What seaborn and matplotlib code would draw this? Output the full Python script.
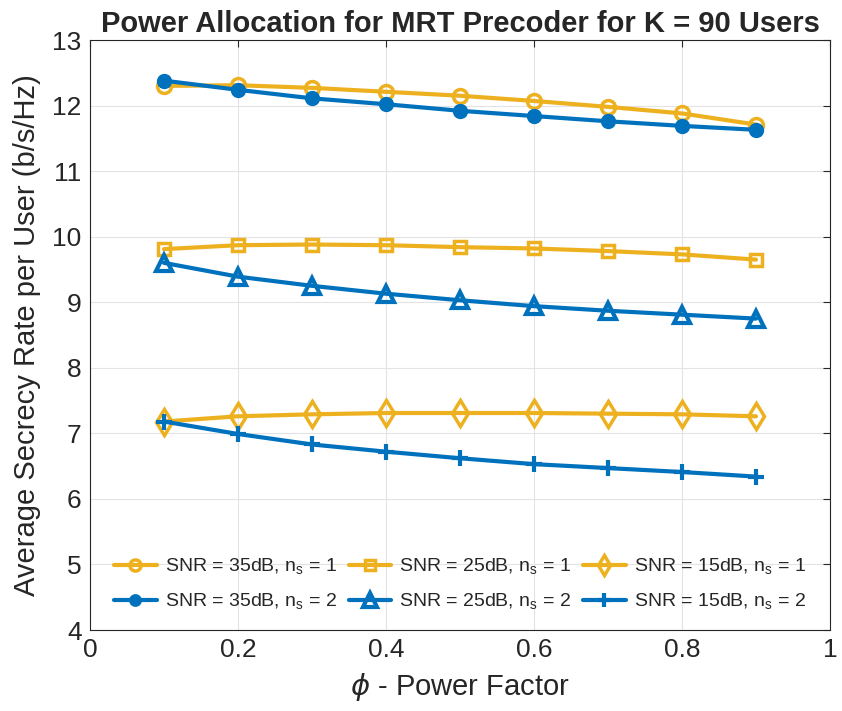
import numpy as np
import pandas as pd
import matplotlib
matplotlib.use("Agg")
import matplotlib.pyplot as plt
import seaborn as sns

phi = [0.1, 0.2, 0.3, 0.4, 0.5, 0.6, 0.7, 0.8, 0.9]
snr35_ns1 = [12.30, 12.31, 12.27, 12.21, 12.15, 12.07, 11.98, 11.88, 11.71]
snr25_ns1 = [9.81, 9.87, 9.88, 9.87, 9.84, 9.82, 9.78, 9.73, 9.65]
snr15_ns1 = [7.18, 7.26, 7.29, 7.31, 7.31, 7.31, 7.30, 7.29, 7.26]
snr35_ns2 = [12.38, 12.24, 12.11, 12.02, 11.92, 11.84, 11.76, 11.69, 11.63]
snr25_ns2 = [9.60, 9.39, 9.25, 9.13, 9.03, 8.94, 8.87, 8.81, 8.75]
snr15_ns2 = [7.18, 6.99, 6.83, 6.72, 6.62, 6.53, 6.47, 6.41, 6.34]

labels = [r"SNR = 35dB, n$_\mathregular{s}$ = 1", r"SNR = 25dB, n$_\mathregular{s}$ = 1",
          r"SNR = 15dB, n$_\mathregular{s}$ = 1", r"SNR = 35dB, n$_\mathregular{s}$ = 2",
          r"SNR = 25dB, n$_\mathregular{s}$ = 2", r"SNR = 15dB, n$_\mathregular{s}$ = 2"]
series = [snr35_ns1, snr25_ns1, snr15_ns1, snr35_ns2, snr25_ns2, snr15_ns2]

yellow = "#EDB120"
blue = "#0072BD"
styles = [
    dict(color=yellow, marker="o", markersize=10, markerfacecolor="none", markeredgecolor=yellow, markeredgewidth=2.5),
    dict(color=yellow, marker="s", markersize=9, markerfacecolor="none", markeredgecolor=yellow, markeredgewidth=2.5),
    dict(color=yellow, marker="d", markersize=13, markerfacecolor="none", markeredgecolor=yellow, markeredgewidth=2.5),
    dict(color=blue, marker="o", markersize=9, markerfacecolor=blue, markeredgecolor=blue, markeredgewidth=2),
    dict(color=blue, marker="^", markersize=12, markerfacecolor="none", markeredgecolor=blue, markeredgewidth=3),
    dict(color=blue, marker="+", markersize=12, markeredgecolor=blue, markeredgewidth=3),
]

sns.set_style("white")
plt.rcParams['font.family'] = ['Liberation Sans', 'DejaVu Sans']
plt.rcParams['mathtext.fontset'] = 'dejavusans'

fig = plt.figure(figsize=(8.42, 7.11), dpi=100)
ax = fig.add_axes([90/842, 81/711, 740/842, 590/711])

for lab, vals, st in zip(labels, series, styles):
    df = pd.DataFrame({"phi": phi, "rate": vals})
    sns.lineplot(data=df, x="phi", y="rate", ax=ax, linewidth=3, label=lab, **st)

ax.set_xlim(0, 1)
ax.set_ylim(4, 13)
ax.set_xticks([0, 0.2, 0.4, 0.6, 0.8, 1])
ax.set_xticklabels(["0", "0.2", "0.4", "0.6", "0.8", "1"])
ax.set_yticks(range(4, 14))
ax.grid(True, color="#e3e3e3", linewidth=0.8)
ax.tick_params(direction="in", labelsize=19, length=5, color="#262626", top=True, right=True, pad=6)
for s in ax.spines.values():
    s.set_color("#262626")
    s.set_linewidth(0.8)
ax.set_xlabel(r"$\mathit{\phi}$ - Power Factor", fontsize=21, color="#262626", labelpad=6)
ax.set_ylabel("Average Secrecy Rate per User (b/s/Hz)", fontsize=21, color="#262626", labelpad=8)
ax.set_title("Power Allocation for MRT Precoder for K = 90 Users", fontsize=21,
             fontweight="bold", pad=6)

handles, labs = ax.get_legend_handles_labels()
order = [0, 3, 1, 4, 2, 5]
ax.legend([handles[i] for i in order], [labs[i] for i in order],
          ncol=3, frameon=False, fontsize=14, loc="lower center",
          bbox_to_anchor=(0.5, 0.0), handlelength=2.2, columnspacing=0.6,
          handletextpad=0.4, labelspacing=0.8, markerscale=0.8)

fig.savefig("out.png", dpi=100)
